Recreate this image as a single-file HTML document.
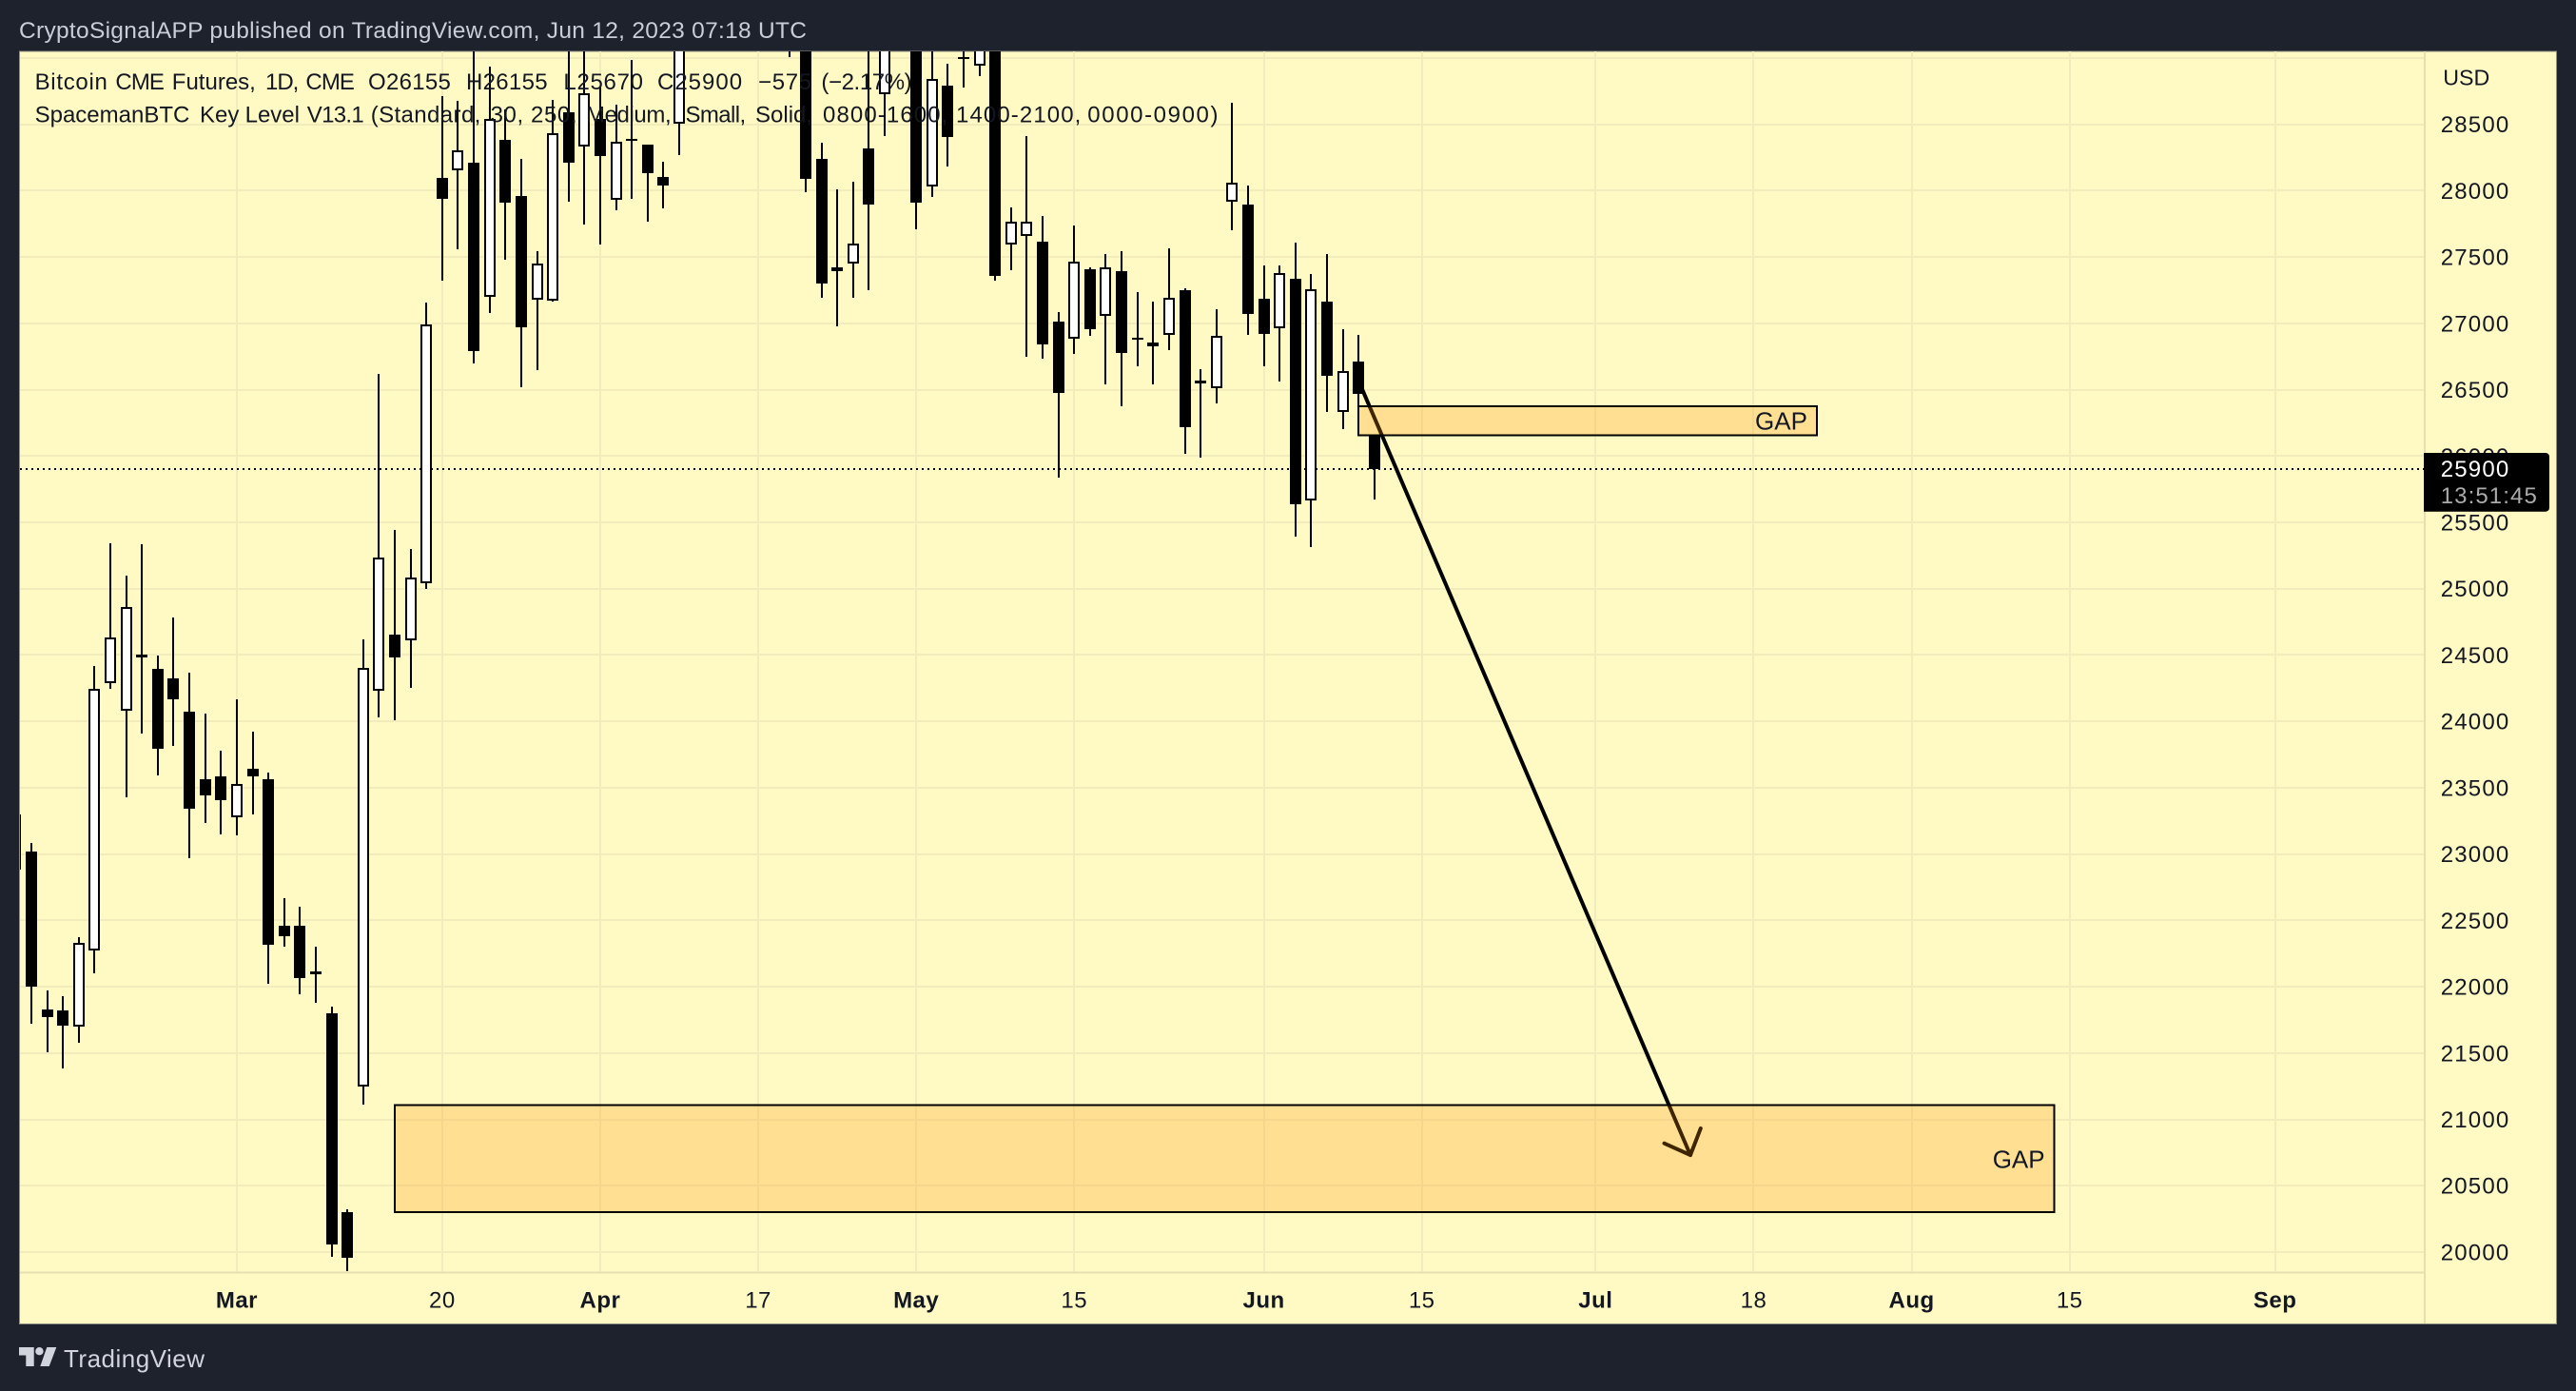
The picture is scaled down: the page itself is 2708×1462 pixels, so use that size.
<!DOCTYPE html>
<html lang="en">
<head>
<meta charset="utf-8">
<title>Bitcoin CME Futures chart</title>
<style>
html,body{margin:0;padding:0;background:#1e222d;width:2708px;height:1462px;overflow:hidden}
svg{display:block}
text{font-family:"Liberation Sans",sans-serif;white-space:pre}
</style>
</head>
<body>
<svg id="chart" xmlns="http://www.w3.org/2000/svg" width="2708" height="1462" viewBox="0 0 2708 1462">
  <defs>
    <clipPath id="pane-clip"><rect x="21" y="54" width="2528" height="1283"/></clipPath>
  </defs>
  <rect x="0" y="0" width="2708" height="1462" fill="#1e222d"/>
  <text x="20" y="40" font-size="24.5" fill="#c9ccd9" textLength="828" lengthAdjust="spacing">CryptoSignalAPP published on TradingView.com, Jun 12, 2023 07:18 UTC</text>
  <rect x="20.5" y="54" width="2667" height="1337.5" fill="#fff9c4" stroke="#8f8f86" stroke-width="1"/>
  <g id="grid"></g>
  <line x1="21" y1="1337.5" x2="2549" y2="1337.5" stroke="#e6dfb2" stroke-width="2"/>
  <line x1="2549" y1="54" x2="2549" y2="1391" stroke="#e6dfb2" stroke-width="2"/>
  <g clip-path="url(#pane-clip)">
    <line id="last-price-line" x1="21" x2="2549" stroke="#000" stroke-width="2" stroke-dasharray="2 4"/>
    <g id="candles"></g>
    <g fill="none" stroke="#000" stroke-width="4" stroke-linecap="round" stroke-linejoin="round">
      <line x1="1431.7" y1="408.4" x2="1777" y2="1214"/>
      <polyline points="1749.5,1201.7 1777,1214 1787.8,1186"/>
    </g>
    <rect x="1428" y="427" width="482" height="30.5" fill="#ff9800" fill-opacity="0.25" stroke="#000" stroke-width="2"/>
    <rect x="415" y="1161.5" width="1744.5" height="112.5" fill="#ff9800" fill-opacity="0.25" stroke="#000" stroke-width="2"/>
  </g>
  <text x="1845" y="451.5" font-size="26" fill="#131722">GAP</text>
  <text x="2094.7" y="1227.5" font-size="26" fill="#131722">GAP</text>
  <text y="94" font-size="24" fill="#131722"><tspan x="36.6" letter-spacing="0.7">Bitcoin</tspan> <tspan x="121.4" letter-spacing="-0.9">CME</tspan> <tspan x="180.8">Futures,</tspan> <tspan x="279" letter-spacing="-1">1D,</tspan> <tspan x="321.4" letter-spacing="-0.9">CME</tspan>  <tspan x="387" letter-spacing="0.3">O26155</tspan>  <tspan x="490" letter-spacing="0.3">H26155</tspan>  <tspan x="592.4" letter-spacing="0.7">L25670</tspan>  <tspan x="691" letter-spacing="1">C25900</tspan>  <tspan x="797" letter-spacing="0.7">−575</tspan> <tspan x="863.4" letter-spacing="-0.4">(−2.17%)</tspan></text>
  <text y="128.3" font-size="24" fill="#131722"><tspan x="36.6">SpacemanBTC</tspan> <tspan x="210">Key</tspan> <tspan x="257.6">Level</tspan> <tspan x="322.8" letter-spacing="-0.7">V13.1</tspan> <tspan x="389.7" letter-spacing="0.4">(Standard,</tspan> <tspan x="515.6" letter-spacing="0.6">30,</tspan> <tspan x="558" letter-spacing="0.6">250,</tspan> <tspan x="616" letter-spacing="-0.4">Medium,</tspan> <tspan x="720.5" letter-spacing="-0.6">Small,</tspan> <tspan x="794">Solid,</tspan> <tspan x="865" letter-spacing="1.1">0800-1600,</tspan> <tspan x="1005" letter-spacing="1.1">1400-2100,</tspan> <tspan x="1143.3" letter-spacing="1.6">0000-0900)</tspan></text>
  <g id="axis-labels"></g>
  <text x="2568.3" y="89.3" font-size="23" fill="#131722" textLength="49" lengthAdjust="spacingAndGlyphs">USD</text>
  <path d="M2548 476H2676a4 4 0 0 1 4 4V533.7a4 4 0 0 1 -4 4H2548Z" fill="#000"/>
  <text id="last-price-text" x="2565.7" y="501" font-size="24" letter-spacing="1.2" fill="#fff">25900</text>
  <text x="2565.7" y="529.2" font-size="24" letter-spacing="1.1" fill="#ababab">13:51:45</text>
  <g fill="#d1d4dc">
    <polygon points="20,1416 35.7,1416 35.7,1436 27.3,1436 27.3,1424.5 20,1424.5"/>
    <circle cx="41.4" cy="1420.2" r="4.2"/>
    <polygon points="42.3,1436 51.7,1436 59.3,1416 49.3,1416"/>
    <text x="67" y="1436.8" font-size="26" textLength="148" lengthAdjust="spacing">TradingView</text>
  </g>
</svg>
<script>
const priceGridValues = [29000,28500,28000,27500,27000,26500,26000,25500,25000,24500,24000,23500,23000,22500,22000,21500,21000,20500,20000];
const priceTickLabels = [28500,28000,27500,27000,26500,26000,25500,25000,24500,24000,23500,23000,22500,22000,21500,21000,20500,20000];
const timeTickBars = [14,27,37,47,57,67,79,89,100,110,120,130,143];
const timeTickLabels = ['Mar','20','Apr','17','May','15','Jun','15','Jul','18','Aug','15','Sep'];
const monthTicks = ['Mar','Apr','May','Jun','Jul','Aug','Sep'];
const lastPrice = 25900;

const opens = [23298,23020,21827,21821,21696,22272,24285,24077,24500,24395,24323,24072,23563,23585,23274,23642,23563,22457,22457,22114,21799,20301,21249,24228,24651,24608,25038,28096,28153,28208,27197,28381,27960,27176,27171,28589,28330,28538,27929,28390,28345,28103,28505,29250,29800,30350,30000,30150,30300,30100,29400,28239,27422,27448,28316,28725,29300,29500,28029,28789,29007,28942,29300,27592,27656,27613,27011,26884,27405,27054,27391,26889,26826,26910,27247,26566,26509,27914,27899,27182,26961,27333,25662,27167,26329,26709,26155];
const highs = [23400,23083,21971,21928,22370,24417,25342,25098,25335,24493,24782,24366,24058,23778,24166,23922,23613,22668,22602,22301,21848,20325,24617,26616,25442,25299,27156,28713,28677,29150,28935,28612,28239,27544,28684,29150,29150,28779,28648,28985,28347,28218,29222,29900,30500,30800,30300,30500,31000,30300,29500,28361,28010,28067,29150,29300,29700,29700,29150,28954,29150,29500,29500,27871,28409,27807,27082,27735,27422,27520,27544,27235,27163,27565,27262,26654,27104,28660,28036,27439,27439,27612,27369,27519,26953,26915,26155];
const lows = [22700,21723,21507,21384,21579,22104,24247,23429,23910,23594,23816,22971,23235,23149,23142,23300,22023,22303,21944,21880,19966,19857,21113,24032,24010,24254,25000,27321,27560,26699,27080,27481,26520,26649,27165,27919,27747,27596,27852,27940,27768,27868,28270,29100,29650,29900,29700,29800,30000,29007,27990,27194,26979,27194,27252,28414,29100,27711,27955,28184,28779,28865,27323,27402,26750,26735,25839,26771,26907,26542,26377,26678,26542,26800,26018,25989,26398,27704,26915,26676,26563,25393,25315,26334,26203,26353,25670];
const closes = [22882,22000,21773,21709,22332,24247,24634,24863,24483,23795,24166,23341,23443,23408,23525,23585,22319,22380,22066,22093,20059,19958,24400,25236,24483,25086,26994,27940,28306,26793,28540,27912,26972,27452,28435,28213,28736,28263,28371,28380,28134,28038,29200,29800,30350,29950,30150,30300,30400,29500,28091,27302,27395,27603,27897,29200,29500,27912,28844,28406,29000,29300,27359,27768,27768,26843,26477,27465,26958,27424,26778,26877,26855,27194,26219,26549,26907,28062,27072,26920,27381,25637,27257,26606,26641,26470,25900];

const SVG_NS = 'http://www.w3.org/2000/svg';
function xScale(bar){ return 16.39 + 16.61 * bar; }
function yScale(price){ return 130.7 + (28500 - price) * 0.13944; }

function make(tag, attrs, parent){
  const el = document.createElementNS(SVG_NS, tag);
  for (const k in attrs) el.setAttribute(k, attrs[k]);
  parent.appendChild(el);
  return el;
}

const gridG = document.getElementById('grid');
const labelsG = document.getElementById('axis-labels');
const candlesG = document.getElementById('candles');

priceGridValues.forEach(function(p){
  const y = Math.round(yScale(p));
  const l = make('line', {x1:21, x2:2549, y1:y, y2:y, stroke:'#f2ebbb', 'stroke-width':2}, gridG);
  
  
});
timeTickBars.forEach(function(b){
  const x = Math.round(xScale(b));
  const l = make('line', {x1:x, x2:x, y1:54, y2:1337, stroke:'#f2ebbb', 'stroke-width':2}, gridG);
  
  
});

priceTickLabels.forEach(function(p){
  const t = make('text', {x:2565.7, y:yScale(p)+8.5, 'font-size':24, 'letter-spacing':1.2, fill:'#131722'}, labelsG);
  t.textContent = String(p);
  
  
});
timeTickBars.forEach(function(b, i){
  const label = timeTickLabels[i];
  const isMonth = monthTicks.indexOf(label) >= 0;
  const t = make('text', {x:xScale(b), y:1374.5, 'font-size':24, 'text-anchor':'middle', 'letter-spacing':0.5, 'font-weight':isMonth?'700':'400', fill:'#131722'}, labelsG);
  t.textContent = label;
  
  
});

const lastLine = document.getElementById('last-price-line');
lastLine.setAttribute('y1', Math.round(yScale(lastPrice)));
lastLine.setAttribute('y2', Math.round(yScale(lastPrice)));
document.getElementById('last-price-text').textContent = String(lastPrice);

opens.forEach(function(o, i){
  const c = closes[i];
  const x = Math.round(xScale(i));
  const up = c >= o;
  const g = make('g', {}, candlesG);
  
  
  make('line', {x1:x, x2:x, y1:Math.round(yScale(highs[i])), y2:Math.round(yScale(lows[i])), stroke:'#000', 'stroke-width':2}, g);
  const top = Math.round(yScale(Math.max(o, c)));
  const bottom = Math.round(yScale(Math.min(o, c)));
  if (up) {
    make('rect', {x:x-5, y:top+1, width:10, height:Math.max(bottom-top-2, 1), fill:'#fff', stroke:'#000', 'stroke-width':2}, g);
  } else {
    make('rect', {x:x-6, y:top, width:12, height:Math.max(bottom-top, 2), fill:'#000'}, g);
  }
});
</script>
</body>
</html>
